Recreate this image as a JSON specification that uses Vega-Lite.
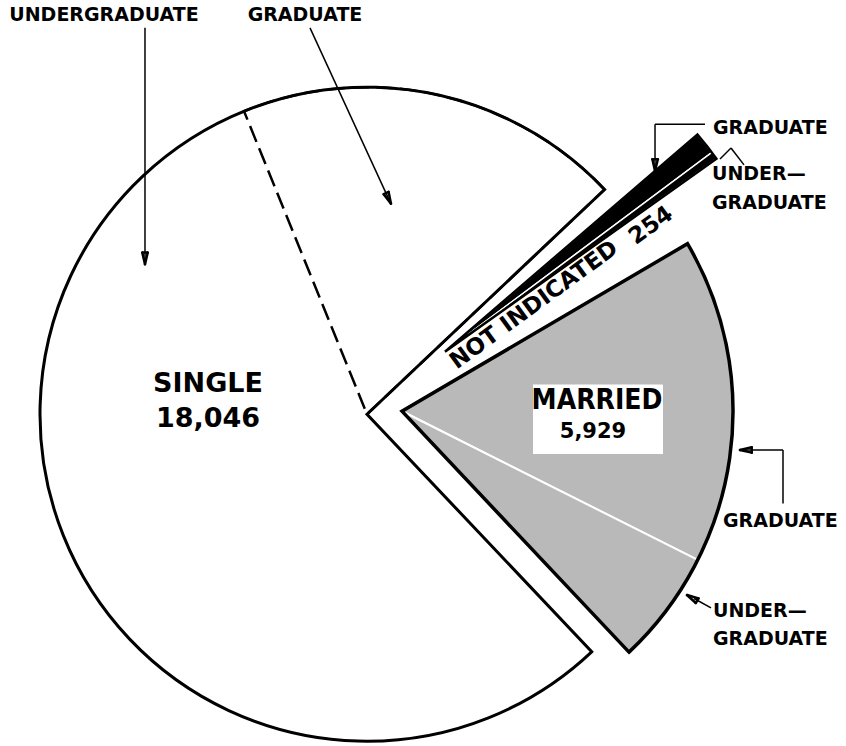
{
  "$schema": "https://vega.github.io/schema/vega-lite/v6.json",
  "width": 846,
  "height": 746,
  "autosize": {"type": "fit", "contains": "padding"},
  "padding": 0,
  "background": "white",
  "config": {
    "view": {"stroke": null},
    "axis": {"disable": true},
    "text": {"font": "DejaVu Sans", "fontWeight": "bold", "color": "black"}
  },
  "data": {
    "values": [
      {"group": "Single", "level": "Undergraduate", "count": 13455},
      {"group": "Single", "level": "Graduate", "count": 4591},
      {"group": "Married", "level": "Graduate", "count": 4391},
      {"group": "Married", "level": "Undergraduate", "count": 1538},
      {"group": "Not indicated", "level": "Graduate", "count": 190},
      {"group": "Not indicated", "level": "Undergraduate", "count": 64}
    ]
  },
  "resolve": {"scale": {"theta": "independent"}},
  "layer": [
    {
      "transform": [{"filter": "datum.group === 'Single'"}],
      "layer": [
        {
          "mark": {"type": "arc", "outerRadius": 327, "fill": "white", "stroke": "black", "strokeWidth": 2.5, "strokeDash": [17, 7]},
          "encoding": {
            "x": {"datum": 0, "type": "quantitative", "scale": {"domain": [-1.12923, 1.47385], "nice": false, "zero": false}},
            "y": {"datum": 0, "type": "quantitative", "scale": {"domain": [-1.01231, 1.28308], "nice": false, "zero": false}},
            "theta": {"field": "count", "type": "quantitative", "stack": true, "scale": {"range": [2.3841, 7.0965], "nice": false, "zero": true}},
            "detail": {"field": "level"},
            "order": {"field": "level", "type": "ordinal", "sort": "descending"},
            "strokeOpacity": {"condition": {"test": "datum.level === 'Graduate'", "value": 1}, "value": 0}
          }
        },
        {
          "transform": [{"aggregate": [{"op": "sum", "field": "count", "as": "total"}]}],
          "mark": {"type": "arc", "outerRadius": 327, "filled": false, "stroke": "black", "strokeWidth": 3},
          "encoding": {
            "x": {"datum": 0, "type": "quantitative"},
            "y": {"datum": 0, "type": "quantitative"},
            "theta": {"field": "total", "type": "quantitative", "stack": true}
          }
        }
      ]
    },
    {
      "transform": [{"filter": "datum.group === 'Married'"}],
      "layer": [
        {
          "mark": {"type": "arc", "outerRadius": 331, "fill": "#b9b9b9", "stroke": "white", "strokeWidth": 2},
          "encoding": {
            "x": {"datum": 0.1077, "type": "quantitative"},
            "y": {"datum": 0.0092, "type": "quantitative"},
            "theta": {"field": "count", "type": "quantitative", "stack": true, "scale": {"range": [1.0402, 2.3859], "nice": false, "zero": true}},
            "detail": {"field": "level"},
            "order": {"field": "level", "type": "ordinal", "sort": "ascending"}
          }
        },
        {
          "transform": [{"aggregate": [{"op": "sum", "field": "count", "as": "total"}]}],
          "mark": {"type": "arc", "outerRadius": 331, "filled": false, "stroke": "black", "strokeWidth": 3.5},
          "encoding": {
            "x": {"datum": 0.1077, "type": "quantitative"},
            "y": {"datum": 0.0092, "type": "quantitative"},
            "theta": {"field": "total", "type": "quantitative", "stack": true}
          }
        }
      ]
    },
    {
      "transform": [{"filter": "datum.group === 'Not indicated'"}],
      "layer": [
        {
          "mark": {"type": "arc", "outerRadius": 333, "fill": "black", "stroke": "white", "strokeWidth": 1.5},
          "encoding": {
            "x": {"datum": 0.24, "type": "quantitative"},
            "y": {"datum": 0.1938, "type": "quantitative"},
            "theta": {"field": "count", "type": "quantitative", "stack": true, "scale": {"range": [0.8604, 0.9529], "nice": false, "zero": true}},
            "detail": {"field": "level"},
            "order": {"field": "level", "type": "ordinal", "sort": "ascending"}
          }
        },
        {
          "transform": [{"aggregate": [{"op": "sum", "field": "count", "as": "total"}]}],
          "mark": {"type": "arc", "outerRadius": 333, "filled": false, "stroke": "black", "strokeWidth": 2.5},
          "encoding": {
            "x": {"datum": 0.24, "type": "quantitative"},
            "y": {"datum": 0.1938, "type": "quantitative"},
            "theta": {"field": "total", "type": "quantitative", "stack": true}
          }
        }
      ]
    },
    {
      "data": {"values": [{"box": "married label"}]},
      "mark": {"type": "rect", "fill": "white"},
      "encoding": {
        "x": {"datum": 0.5108, "type": "quantitative"}, "x2": {"datum": 0.9108},
        "y": {"datum": 0.0923, "type": "quantitative"}, "y2": {"datum": -0.1231}
      }
    },
    {
      "data": {"values": [{"arrowhead": "single undergraduate"}]},
      "layer": [
        {"mark": {"type": "rule", "color": "black", "strokeWidth": 2.5, "strokeCap": "round"},
         "encoding": {"x": {"datum": -0.6831, "type": "quantitative"}, "y": {"datum": 0.4646, "type": "quantitative"}, "x2": {"datum": -0.6748}, "y2": {"datum": 0.5006}}},
        {"mark": {"type": "rule", "color": "black", "strokeWidth": 2.5, "strokeCap": "round"},
         "encoding": {"x": {"datum": -0.6831, "type": "quantitative"}, "y": {"datum": 0.4646, "type": "quantitative"}, "x2": {"datum": -0.6914}, "y2": {"datum": 0.5006}}},
        {"mark": {"type": "rule", "color": "black", "strokeWidth": 2.5, "strokeCap": "round"},
         "encoding": {"x": {"datum": -0.6748, "type": "quantitative"}, "y": {"datum": 0.5006, "type": "quantitative"}, "x2": {"datum": -0.6914}, "y2": {"datum": 0.5006}}}
      ]
    },
    {
      "data": {"values": [{"arrowhead": "single graduate"}]},
      "layer": [
        {"mark": {"type": "rule", "color": "black", "strokeWidth": 2.5, "strokeCap": "round"},
         "encoding": {"x": {"datum": 0.0738, "type": "quantitative"}, "y": {"datum": 0.6523, "type": "quantitative"}, "x2": {"datum": 0.0665}, "y2": {"datum": 0.6886}}},
        {"mark": {"type": "rule", "color": "black", "strokeWidth": 2.5, "strokeCap": "round"},
         "encoding": {"x": {"datum": 0.0738, "type": "quantitative"}, "y": {"datum": 0.6523, "type": "quantitative"}, "x2": {"datum": 0.0514}, "y2": {"datum": 0.6815}}},
        {"mark": {"type": "rule", "color": "black", "strokeWidth": 2.5, "strokeCap": "round"},
         "encoding": {"x": {"datum": 0.0665, "type": "quantitative"}, "y": {"datum": 0.6886, "type": "quantitative"}, "x2": {"datum": 0.0514}, "y2": {"datum": 0.6815}}}
      ]
    },
    {
      "data": {"values": [{"arrowhead": "not indicated graduate"}]},
      "layer": [
        {"mark": {"type": "rule", "color": "black", "strokeWidth": 2.5, "strokeCap": "round"},
         "encoding": {"x": {"datum": 0.8862, "type": "quantitative"}, "y": {"datum": 0.7538, "type": "quantitative"}, "x2": {"datum": 0.8948}, "y2": {"datum": 0.7898}}},
        {"mark": {"type": "rule", "color": "black", "strokeWidth": 2.5, "strokeCap": "round"},
         "encoding": {"x": {"datum": 0.8862, "type": "quantitative"}, "y": {"datum": 0.7538, "type": "quantitative"}, "x2": {"datum": 0.8782}, "y2": {"datum": 0.7898}}},
        {"mark": {"type": "rule", "color": "black", "strokeWidth": 2.5, "strokeCap": "round"},
         "encoding": {"x": {"datum": 0.8948, "type": "quantitative"}, "y": {"datum": 0.7898, "type": "quantitative"}, "x2": {"datum": 0.8782}, "y2": {"datum": 0.7898}}}
      ]
    },
    {
      "data": {"values": [{"arrowhead": "married graduate"}]},
      "layer": [
        {"mark": {"type": "rule", "color": "black", "strokeWidth": 2.5, "strokeCap": "round"},
         "encoding": {"x": {"datum": 1.1477, "type": "quantitative"}, "y": {"datum": -0.1108, "type": "quantitative"}, "x2": {"datum": 1.1837}, "y2": {"datum": -0.1025}}},
        {"mark": {"type": "rule", "color": "black", "strokeWidth": 2.5, "strokeCap": "round"},
         "encoding": {"x": {"datum": 1.1477, "type": "quantitative"}, "y": {"datum": -0.1108, "type": "quantitative"}, "x2": {"datum": 1.1837}, "y2": {"datum": -0.1191}}},
        {"mark": {"type": "rule", "color": "black", "strokeWidth": 2.5, "strokeCap": "round"},
         "encoding": {"x": {"datum": 1.1837, "type": "quantitative"}, "y": {"datum": -0.1025, "type": "quantitative"}, "x2": {"datum": 1.1837}, "y2": {"datum": -0.1191}}}
      ]
    },
    {
      "data": {"values": [{"arrowhead": "married undergraduate"}]},
      "layer": [
        {"mark": {"type": "rule", "color": "black", "strokeWidth": 2.5, "strokeCap": "round"},
         "encoding": {"x": {"datum": 0.9846, "type": "quantitative"}, "y": {"datum": -0.56, "type": "quantitative"}, "x2": {"datum": 1.02}, "y2": {"datum": -0.5706}}},
        {"mark": {"type": "rule", "color": "black", "strokeWidth": 2.5, "strokeCap": "round"},
         "encoding": {"x": {"datum": 0.9846, "type": "quantitative"}, "y": {"datum": -0.56, "type": "quantitative"}, "x2": {"datum": 1.0117}, "y2": {"datum": -0.5849}}},
        {"mark": {"type": "rule", "color": "black", "strokeWidth": 2.5, "strokeCap": "round"},
         "encoding": {"x": {"datum": 1.02, "type": "quantitative"}, "y": {"datum": -0.5706, "type": "quantitative"}, "x2": {"datum": 1.0117}, "y2": {"datum": -0.5849}}}
      ]
    },
    {
      "data": {"values": [{"label": "SINGLE"}]},
      "mark": {"type": "text", "fontSize": 27, "align": "center", "baseline": "middle"},
      "encoding": {"x": {"datum": -0.4892, "type": "quantitative"}, "y": {"datum": 0.0923, "type": "quantitative"}, "text": {"field": "label"}}
    },
    {
      "data": {"values": [{"label": "18,046"}]},
      "mark": {"type": "text", "fontSize": 27, "align": "center", "baseline": "middle"},
      "encoding": {"x": {"datum": -0.4892, "type": "quantitative"}, "y": {"datum": -0.0154, "type": "quantitative"}, "text": {"field": "label"}}
    },
    {
      "data": {"values": [{"label": "MARRIED"}]},
      "mark": {"type": "text", "fontSize": 28, "align": "center", "baseline": "middle", "font": "DejaVu Sans Condensed, Liberation Sans Narrow, DejaVu Sans"},
      "encoding": {"x": {"datum": 0.7077, "type": "quantitative"}, "y": {"datum": 0.04, "type": "quantitative"}, "text": {"field": "label"}}
    },
    {
      "data": {"values": [{"label": "5,929"}]},
      "mark": {"type": "text", "fontSize": 21, "align": "center", "baseline": "middle"},
      "encoding": {"x": {"datum": 0.6954, "type": "quantitative"}, "y": {"datum": -0.0554, "type": "quantitative"}, "text": {"field": "label"}}
    },
    {
      "data": {"values": [{"label": "NOT INDICATED"}]},
      "mark": {"type": "text", "fontSize": 23, "align": "center", "baseline": "middle", "angle": -36},
      "encoding": {"x": {"datum": 0.5138, "type": "quantitative"}, "y": {"datum": 0.3385, "type": "quantitative"}, "text": {"field": "label"}}
    },
    {
      "data": {"values": [{"label": "254"}]},
      "mark": {"type": "text", "fontSize": 23, "align": "center", "baseline": "middle", "angle": -36},
      "encoding": {"x": {"datum": 0.8738, "type": "quantitative"}, "y": {"datum": 0.5846, "type": "quantitative"}, "text": {"field": "label"}}
    },
    {
      "data": {"values": [{"label": "UNDERGRADUATE"}]},
      "mark": {"type": "text", "fontSize": 19, "align": "center", "baseline": "middle"},
      "encoding": {"x": {"datum": -0.8092, "type": "quantitative"}, "y": {"datum": 1.2369, "type": "quantitative"}, "text": {"field": "label"}}
    },
    {
      "data": {"values": [{"label": "GRADUATE"}]},
      "mark": {"type": "text", "fontSize": 19, "align": "center", "baseline": "middle"},
      "encoding": {"x": {"datum": -0.1908, "type": "quantitative"}, "y": {"datum": 1.2369, "type": "quantitative"}, "text": {"field": "label"}}
    },
    {
      "data": {"values": [{"label": "GRADUATE"}]},
      "mark": {"type": "text", "fontSize": 19, "align": "left", "baseline": "middle"},
      "encoding": {"x": {"datum": 1.0646, "type": "quantitative"}, "y": {"datum": 0.8862, "type": "quantitative"}, "text": {"field": "label"}}
    },
    {
      "data": {"values": [{"label": "UNDER—"}]},
      "mark": {"type": "text", "fontSize": 19, "align": "left", "baseline": "middle"},
      "encoding": {"x": {"datum": 1.0615, "type": "quantitative"}, "y": {"datum": 0.7446, "type": "quantitative"}, "text": {"field": "label"}}
    },
    {
      "data": {"values": [{"label": "GRADUATE"}]},
      "mark": {"type": "text", "fontSize": 19, "align": "left", "baseline": "middle"},
      "encoding": {"x": {"datum": 1.0615, "type": "quantitative"}, "y": {"datum": 0.6554, "type": "quantitative"}, "text": {"field": "label"}}
    },
    {
      "data": {"values": [{"label": "GRADUATE"}]},
      "mark": {"type": "text", "fontSize": 19, "align": "left", "baseline": "middle"},
      "encoding": {"x": {"datum": 1.0954, "type": "quantitative"}, "y": {"datum": -0.3323, "type": "quantitative"}, "text": {"field": "label"}}
    },
    {
      "data": {"values": [{"label": "UNDER—"}]},
      "mark": {"type": "text", "fontSize": 19, "align": "left", "baseline": "middle"},
      "encoding": {"x": {"datum": 1.0646, "type": "quantitative"}, "y": {"datum": -0.6092, "type": "quantitative"}, "text": {"field": "label"}}
    },
    {
      "data": {"values": [{"label": "GRADUATE"}]},
      "mark": {"type": "text", "fontSize": 19, "align": "left", "baseline": "middle"},
      "encoding": {"x": {"datum": 1.0646, "type": "quantitative"}, "y": {"datum": -0.6954, "type": "quantitative"}, "text": {"field": "label"}}
    },
    {
      "data": {"values": [{"leader": "single undergraduate"}]},
      "mark": {"type": "rule", "color": "black", "strokeWidth": 1.5},
      "encoding": {"x": {"datum": -0.6831, "type": "quantitative"}, "y": {"datum": 1.1969, "type": "quantitative"}, "x2": {"datum": -0.6831}, "y2": {"datum": 0.4769}}
    },
    {
      "data": {"values": [{"leader": "single graduate"}]},
      "mark": {"type": "rule", "color": "black", "strokeWidth": 1.5},
      "encoding": {"x": {"datum": -0.1754, "type": "quantitative"}, "y": {"datum": 1.1969, "type": "quantitative"}, "x2": {"datum": 0.0677}, "y2": {"datum": 0.6646}}
    },
    {
      "data": {"values": [{"leader": "not indicated graduate a"}]},
      "mark": {"type": "rule", "color": "black", "strokeWidth": 1.5},
      "encoding": {"x": {"datum": 1.04, "type": "quantitative"}, "y": {"datum": 0.8985, "type": "quantitative"}, "x2": {"datum": 0.8862}, "y2": {"datum": 0.8985}}
    },
    {
      "data": {"values": [{"leader": "not indicated graduate b"}]},
      "mark": {"type": "rule", "color": "black", "strokeWidth": 1.5},
      "encoding": {"x": {"datum": 0.8862, "type": "quantitative"}, "y": {"datum": 0.8985, "type": "quantitative"}, "x2": {"datum": 0.8862}, "y2": {"datum": 0.7662}}
    },
    {
      "data": {"values": [{"leader": "not indicated undergraduate a"}]},
      "mark": {"type": "rule", "color": "black", "strokeWidth": 1.5},
      "encoding": {"x": {"datum": 1.16, "type": "quantitative"}, "y": {"datum": 0.7723, "type": "quantitative"}, "x2": {"datum": 1.12}, "y2": {"datum": 0.8246}}
    },
    {
      "data": {"values": [{"leader": "not indicated undergraduate b"}]},
      "mark": {"type": "rule", "color": "black", "strokeWidth": 1.5},
      "encoding": {"x": {"datum": 1.12, "type": "quantitative"}, "y": {"datum": 0.8246, "type": "quantitative"}, "x2": {"datum": 1.0862}, "y2": {"datum": 0.7908}}
    },
    {
      "data": {"values": [{"leader": "married graduate a"}]},
      "mark": {"type": "rule", "color": "black", "strokeWidth": 1.5},
      "encoding": {"x": {"datum": 1.28, "type": "quantitative"}, "y": {"datum": -0.2769, "type": "quantitative"}, "x2": {"datum": 1.28}, "y2": {"datum": -0.1108}}
    },
    {
      "data": {"values": [{"leader": "married graduate b"}]},
      "mark": {"type": "rule", "color": "black", "strokeWidth": 1.5},
      "encoding": {"x": {"datum": 1.28, "type": "quantitative"}, "y": {"datum": -0.1108, "type": "quantitative"}, "x2": {"datum": 1.1631}, "y2": {"datum": -0.1108}}
    },
    {
      "data": {"values": [{"leader": "married undergraduate"}]},
      "mark": {"type": "rule", "color": "black", "strokeWidth": 1.5},
      "encoding": {"x": {"datum": 1.0585, "type": "quantitative"}, "y": {"datum": -0.6, "type": "quantitative"}, "x2": {"datum": 1.0062}, "y2": {"datum": -0.5708}}
    }
  ]
}
